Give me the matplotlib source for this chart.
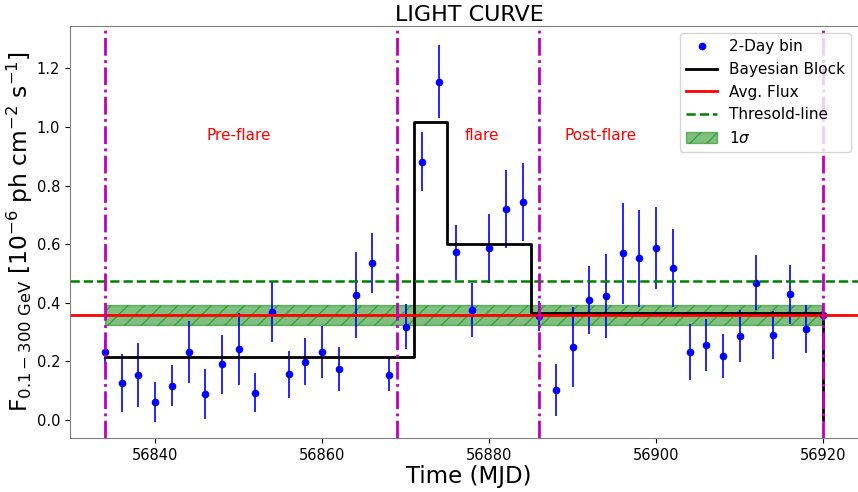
import matplotlib
matplotlib.use('Agg')
import matplotlib.pyplot as plt

# 2-day binned light curve
mjd = [56834 + 2 * i for i in range(44)]
flux = [0.233, 0.127, 0.154, 0.063, 0.117, 0.232, 0.088, 0.190, 0.243, 0.093,
        0.370, 0.156, 0.199, 0.232, 0.173, 0.426, 0.537, 0.154, 0.318, 0.882,
        1.155, 0.572, 0.375, 0.586, 0.721, 0.745, 0.355, 0.103, 0.250, 0.410,
        0.423, 0.569, 0.552, 0.586, 0.519, 0.232, 0.257, 0.218, 0.287, 0.469,
        0.290, 0.429, 0.310, 0.358]
flux_err = [0.040, 0.098, 0.110, 0.068, 0.070, 0.105, 0.085, 0.100, 0.124, 0.067,
            0.104, 0.080, 0.080, 0.090, 0.075, 0.146, 0.102, 0.054, 0.077, 0.102,
            0.125, 0.093, 0.093, 0.117, 0.133, 0.133, 0.050, 0.090, 0.137, 0.116,
            0.144, 0.172, 0.166, 0.140, 0.132, 0.095, 0.088, 0.076, 0.088, 0.095,
            0.083, 0.100, 0.082, 0.030]

# Bayesian blocks
bb_edges = [56834, 56871, 56875, 56885, 56920]
bb_flux = [0.216, 1.018, 0.601, 0.367, 0.0]

avg_flux = 0.358
sigma_low, sigma_high = 0.323, 0.392
threshold = 0.475

phase_lines = [56834, 56869, 56886, 56920]
phase_names = ['Pre-flare', 'flare', 'Post-flare']
phase_text_x = [56850, 56879.1, 56893.4]

fig = plt.figure(figsize=(8.58, 4.92), dpi=100)
# axes run slightly past the right edge of the figure, as in the original
ax = fig.add_axes([0.0816, 0.1098, 0.93, 0.8382])

ax.errorbar(mjd, flux, yerr=flux_err, fmt='none', ecolor='blue', elinewidth=1.2)
ax.plot(mjd, flux, 'o', color='blue', markersize=4.5, label='2-Day bin')
ax.step(bb_edges, bb_flux, where='post', color='black', lw=2, label='Bayesian Block')
ax.axhline(avg_flux, color='red', lw=2, label='Avg. Flux')
ax.axhline(threshold, color='green', ls='--', lw=1.8, label='Thresold-line')
ax.fill_between([bb_edges[0], bb_edges[-1]], sigma_low, sigma_high, color='green',
                alpha=0.5, hatch='//', edgecolor='green', label=r'1$\sigma$')

for xv in phase_lines:
    ax.axvline(xv, color='m', ls='-.', lw=2)

for name, xt in zip(phase_names, phase_text_x):
    ax.text(xt, 0.97, name, color='red', fontsize=11, ha='center', va='center')

ax.set_xlim(56829.8, 56925.37)
ax.set_ylim(-0.061, 1.346)

for sp in ax.spines.values():
    sp.set_color('0.5')
ax.tick_params(labelsize=10.5)

ax.set_title('LIGHT CURVE', fontsize=16, pad=3)
ax.set_xlabel('Time (MJD)', fontsize=16.5, labelpad=2)
ax.set_ylabel(r'F$_{0.1-300\ \mathrm{GeV}}$ [10$^{-6}$ ph cm$^{-2}$ s$^{-1}$]',
              fontsize=16.8, labelpad=1)
ax.legend(loc='upper right', bbox_to_anchor=(0.9887, 1.0), fontsize=11)

fig.savefig('out.png', dpi=100)
